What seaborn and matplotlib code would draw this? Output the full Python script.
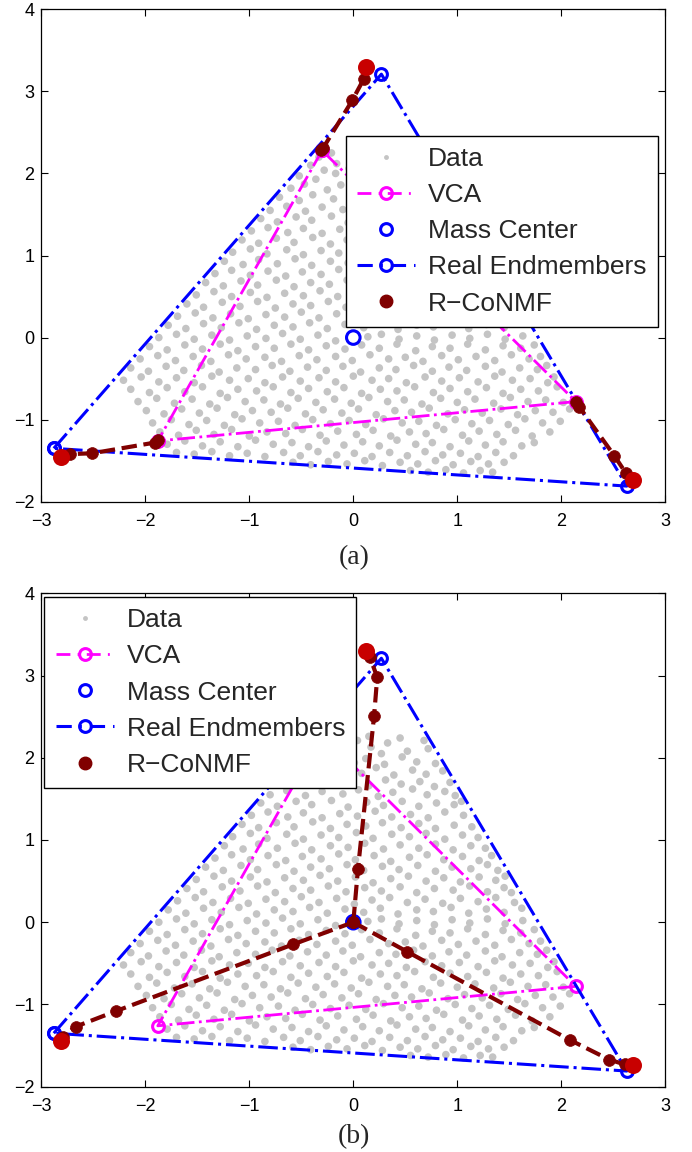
import matplotlib
matplotlib.use("Agg")
import matplotlib.pyplot as plt
from matplotlib.lines import Line2D
import seaborn as sns

# gray data cloud (same samples in both panels)
data_xy = [
    (-0.33, 2.20), (-0.21, 2.25), (0.04, 2.21), (0.15, 2.26), (0.33, 2.18), (0.45, 2.24), (0.68, 2.21),
    (-0.41, 2.10), (-0.16, 2.12), (-0.04, 2.06), (0.17, 2.13), (0.27, 2.05), (0.52, 2.08), (0.72, 2.11), (-0.28, 2.04),
    (-0.52, 1.97), (-0.36, 1.93), (-0.17, 2.00), (0.01, 1.94), (0.12, 1.99), (0.30, 1.92), (0.47, 2.01), (0.61, 1.95), (0.79, 1.93),
    (-0.60, 1.82), (-0.47, 1.87), (-0.25, 1.80), (-0.12, 1.86), (0.08, 1.81), (0.22, 1.88), (0.39, 1.79), (0.57, 1.85), (0.70, 1.80), (0.86, 1.84),
    (-0.71, 1.71), (-0.52, 1.67), (-0.39, 1.74), (-0.19, 1.69), (-0.03, 1.72), (0.15, 1.66), (0.31, 1.73), (0.46, 1.68), (0.64, 1.71), (0.78, 1.65), (0.93, 1.70),
    (-0.80, 1.55), (-0.64, 1.60), (-0.46, 1.54), (-0.30, 1.59), (-0.10, 1.56), (0.05, 1.61), (0.24, 1.53), (0.38, 1.58), (0.57, 1.62), (0.71, 1.55), (0.88, 1.59), (0.98, 1.54),
    (-0.89, 1.45), (-0.73, 1.41), (-0.55, 1.47), (-0.40, 1.43), (-0.21, 1.48), (-0.05, 1.40), (0.13, 1.46), (0.29, 1.42), (0.47, 1.47), (0.63, 1.41), (0.80, 1.45), (0.97, 1.43), (1.04, 1.47),
    (-0.98, 1.30), (-0.82, 1.34), (-0.63, 1.28), (-0.48, 1.33), (-0.30, 1.27), (-0.13, 1.32), (0.04, 1.29), (0.21, 1.35), (0.37, 1.28), (0.55, 1.31), (0.72, 1.27), (0.88, 1.34), (1.06, 1.30),
    (-1.07, 1.19), (-0.91, 1.15), (-0.74, 1.21), (-0.57, 1.16), (-0.39, 1.22), (-0.22, 1.14), (-0.06, 1.19), (0.12, 1.17), (0.28, 1.21), (0.46, 1.15), (0.63, 1.20), (0.79, 1.14), (0.97, 1.18), (1.14, 1.16),
    (-1.16, 1.04), (-0.99, 1.08), (-0.83, 1.02), (-0.64, 1.07), (-0.48, 1.01), (-0.31, 1.06), (-0.14, 1.03), (0.03, 1.09), (0.19, 1.02), (0.37, 1.07), (0.54, 1.04), (0.70, 1.08), (0.88, 1.01), (1.05, 1.06), (1.20, 1.03),
    (-1.24, 0.93), (-1.06, 0.89), (-0.91, 0.95), (-0.73, 0.90), (-0.56, 0.96), (-0.40, 0.88), (-0.22, 0.93), (-0.05, 0.91), (0.11, 0.96), (0.29, 0.89), (0.45, 0.94), (0.63, 0.90), (0.79, 0.95), (0.96, 0.88), (1.13, 0.93), (1.27, 0.90),
    (-1.33, 0.78), (-1.17, 0.82), (-0.99, 0.76), (-0.82, 0.81), (-0.65, 0.75), (-0.49, 0.80), (-0.31, 0.77), (-0.14, 0.83), (0.02, 0.76), (0.20, 0.81), (0.36, 0.74), (0.54, 0.79), (0.71, 0.82), (0.87, 0.76), (1.05, 0.80), (1.21, 0.75), (1.33, 0.81),
    (-1.42, 0.67), (-1.25, 0.63), (-1.08, 0.69), (-0.92, 0.64), (-0.74, 0.70), (-0.57, 0.62), (-0.41, 0.67), (-0.23, 0.65), (-0.06, 0.70), (0.10, 0.63), (0.28, 0.68), (0.44, 0.64), (0.62, 0.69), (0.79, 0.62), (0.95, 0.67), (1.13, 0.65), (1.29, 0.70), (1.39, 0.63),
    (-1.51, 0.52), (-1.34, 0.56), (-1.17, 0.50), (-0.99, 0.55), (-0.83, 0.49), (-0.66, 0.54), (-0.48, 0.51), (-0.32, 0.57), (-0.15, 0.50), (0.02, 0.55), (0.19, 0.48), (0.36, 0.53), (0.53, 0.56), (0.70, 0.50), (0.87, 0.54), (1.03, 0.49), (1.21, 0.55), (1.37, 0.51), (1.46, 0.56),
    (-1.60, 0.41), (-1.44, 0.37), (-1.26, 0.43), (-1.09, 0.38), (-0.92, 0.44), (-0.75, 0.36), (-0.58, 0.41), (-0.41, 0.39), (-0.24, 0.44), (-0.07, 0.37), (0.11, 0.42), (0.27, 0.38), (0.45, 0.43), (0.61, 0.36), (0.78, 0.41), (0.96, 0.39), (1.12, 0.44), (1.29, 0.37), (1.45, 0.42), (1.52, 0.36),
    (-1.69, 0.26), (-1.52, 0.30), (-1.35, 0.24), (-1.18, 0.29), (-1.01, 0.23), (-0.84, 0.28), (-0.66, 0.25), (-0.50, 0.31), (-0.33, 0.24), (-0.16, 0.29), (0.01, 0.22), (0.18, 0.27), (0.35, 0.30), (0.52, 0.24), (0.69, 0.28), (0.86, 0.23), (1.03, 0.29), (1.20, 0.25), (1.37, 0.30), (1.55, 0.24),
    (-1.78, 0.15), (-1.61, 0.11), (-1.44, 0.17), (-1.27, 0.12), (-1.10, 0.18), (-0.93, 0.10), (-0.76, 0.15), (-0.58, 0.13), (-0.42, 0.18), (-0.25, 0.11), (-0.08, 0.16), (0.10, 0.12), (0.26, 0.17), (0.43, 0.10), (0.61, 0.15), (0.77, 0.13), (0.94, 0.18), (1.11, 0.11), (1.28, 0.16), (1.45, 0.12), (1.62, 0.17),
    (-1.87, 0.00), (-1.70, 0.04), (-1.53, -0.02), (-1.36, 0.03), (-1.19, -0.03), (-1.02, 0.02), (-0.84, -0.01), (-0.68, 0.05), (-0.51, -0.02), (-0.34, 0.03), (-0.17, -0.04), (0.14, 0.01), (0.27, 0.04), (0.44, -0.02), (0.61, 0.02), (0.78, -0.03), (0.95, 0.03), (1.12, -0.01), (1.29, 0.04), (1.46, -0.02), (1.63, 0.02),
    (-1.96, -0.11), (-1.79, -0.15), (-1.62, -0.09), (-1.45, -0.14), (-1.28, -0.08), (-1.11, -0.16), (-0.94, -0.11), (-0.76, -0.13), (-0.60, -0.08), (-0.43, -0.15), (-0.26, -0.10), (-0.08, -0.14), (0.08, -0.09), (0.25, -0.13), (0.42, -0.08), (0.60, -0.16), (0.76, -0.11), (0.93, -0.13), (1.10, -0.08), (1.27, -0.15), (1.44, -0.10), (1.61, -0.13), (1.74, -0.09),
    (-2.05, -0.26), (-1.88, -0.22), (-1.71, -0.28), (-1.54, -0.23), (-1.37, -0.29), (-1.20, -0.21), (-1.03, -0.26), (-0.85, -0.24), (-0.69, -0.29), (-0.52, -0.22), (-0.35, -0.27), (-0.17, -0.23), (-0.01, -0.28), (0.16, -0.21), (0.34, -0.26), (0.50, -0.24), (0.67, -0.29), (0.85, -0.22), (1.01, -0.27), (1.18, -0.23), (1.36, -0.28), (1.52, -0.21), (1.69, -0.26), (1.80, -0.23),
    (-2.14, -0.37), (-1.97, -0.41), (-1.80, -0.35), (-1.63, -0.40), (-1.46, -0.34), (-1.29, -0.42), (-1.12, -0.37), (-0.94, -0.39), (-0.78, -0.34), (-0.61, -0.41), (-0.44, -0.36), (-0.26, -0.40), (-0.10, -0.35), (0.07, -0.42), (0.25, -0.37), (0.41, -0.39), (0.58, -0.34), (0.76, -0.41), (0.92, -0.36), (1.09, -0.40), (1.27, -0.35), (1.43, -0.42), (1.60, -0.37), (1.77, -0.39), (1.86, -0.34),
    (-2.21, -0.52), (-2.04, -0.48), (-1.87, -0.54), (-1.70, -0.49), (-1.53, -0.55), (-1.36, -0.47), (-1.19, -0.52), (-1.01, -0.50), (-0.85, -0.55), (-0.68, -0.48), (-0.51, -0.53), (-0.33, -0.49), (-0.17, -0.54), (0.00, -0.47), (0.18, -0.52), (0.34, -0.50), (0.51, -0.55), (0.69, -0.48), (0.85, -0.53), (1.02, -0.49), (1.20, -0.54), (1.36, -0.47), (1.53, -0.52), (1.70, -0.50), (1.87, -0.55), (1.93, -0.48),
    (-2.14, -0.63), (-1.96, -0.67), (-1.79, -0.61), (-1.62, -0.66), (-1.45, -0.60), (-1.28, -0.68), (-1.11, -0.63), (-0.93, -0.65), (-0.77, -0.60), (-0.60, -0.67), (-0.43, -0.62), (-0.25, -0.66), (-0.09, -0.61), (0.08, -0.68), (0.26, -0.63), (0.42, -0.65), (0.59, -0.60), (0.77, -0.67), (0.93, -0.62), (1.10, -0.66), (1.28, -0.61), (1.44, -0.68), (1.61, -0.63), (1.78, -0.65), (1.96, -0.60),
    (-2.07, -0.78), (-1.89, -0.74), (-1.72, -0.80), (-1.55, -0.75), (-1.38, -0.81), (-1.21, -0.73), (-1.04, -0.78), (-0.86, -0.76), (-0.70, -0.81), (-0.53, -0.74), (-0.36, -0.79), (-0.18, -0.75), (-0.02, -0.80), (0.15, -0.73), (0.33, -0.78), (0.49, -0.76), (0.66, -0.81), (0.84, -0.74), (1.00, -0.79), (1.17, -0.75), (1.35, -0.80), (1.51, -0.73), (1.68, -0.78), (1.85, -0.76), (2.02, -0.79),
    (-1.99, -0.89), (-1.82, -0.93), (-1.65, -0.87), (-1.48, -0.92), (-1.31, -0.86), (-1.14, -0.94), (-0.97, -0.89), (-0.79, -0.91), (-0.63, -0.86), (-0.46, -0.93), (-0.29, -0.88), (-0.11, -0.92), (0.05, -0.87), (0.22, -0.94), (0.40, -0.89), (0.56, -0.91), (0.73, -0.86), (0.91, -0.93), (1.07, -0.88), (1.24, -0.92), (1.42, -0.87), (1.58, -0.94), (1.75, -0.89), (1.92, -0.91), (2.08, -0.87),
    (-1.93, -1.04), (-1.75, -1.00), (-1.58, -1.06), (-1.41, -1.01), (-1.24, -1.07), (-1.07, -0.99), (-0.90, -1.04), (-0.72, -1.02), (-0.56, -1.07), (-0.39, -1.00), (-0.22, -1.05), (-0.04, -1.01), (0.12, -1.06), (0.29, -0.99), (0.47, -1.04), (0.63, -1.02), (0.80, -1.07), (0.98, -1.00), (1.14, -1.05), (1.31, -1.01), (1.49, -1.06), (1.65, -0.99), (1.82, -1.04), (1.99, -1.02),
    (-1.86, -1.15), (-1.68, -1.19), (-1.51, -1.13), (-1.34, -1.18), (-1.17, -1.12), (-1.00, -1.20), (-0.83, -1.15), (-0.65, -1.17), (-0.49, -1.12), (-0.32, -1.19), (-0.15, -1.14), (0.03, -1.18), (0.19, -1.13), (0.36, -1.20), (0.54, -1.15), (0.70, -1.17), (0.87, -1.12), (1.05, -1.19), (1.21, -1.14), (1.38, -1.18), (1.56, -1.13), (1.72, -1.20), (1.89, -1.15),
    (-1.79, -1.30), (-1.62, -1.26), (-1.45, -1.32), (-1.28, -1.27), (-1.11, -1.33), (-0.94, -1.25), (-0.77, -1.30), (-0.59, -1.28), (-0.43, -1.33), (-0.26, -1.26), (-0.09, -1.31), (0.09, -1.27), (0.25, -1.32), (0.42, -1.25), (0.60, -1.30), (0.76, -1.28), (0.93, -1.33), (1.11, -1.26), (1.27, -1.31), (1.44, -1.27), (1.62, -1.32), (1.74, -1.28),
    (-1.70, -1.40), (-1.53, -1.42), (-1.36, -1.39), (-1.19, -1.44), (-1.02, -1.41), (-0.85, -1.45), (-0.67, -1.40), (-0.51, -1.44), (-0.34, -1.39), (-0.16, -1.43), (0.01, -1.41), (0.18, -1.45), (0.35, -1.40), (0.52, -1.44), (0.69, -1.39), (0.86, -1.43), (1.03, -1.41), (1.20, -1.45), (1.37, -1.40), (1.54, -1.44),
    (-0.58, -1.52), (-0.41, -1.55), (-0.24, -1.51), (-0.06, -1.54), (0.11, -1.50), (0.28, -1.56), (0.45, -1.52), (0.62, -1.54), (0.79, -1.50), (0.96, -1.55), (1.13, -1.51), (1.30, -1.54), (1.45, -1.52),
    (0.55, -1.62), (0.72, -1.64), (0.89, -1.61), (1.06, -1.65), (1.22, -1.62), (1.34, -1.64),
]
data_x = [p[0] for p in data_xy]
data_y = [p[1] for p in data_xy]

# real endmembers (closed triangle) and mass center
real_x = [-2.88, 0.27, 2.63, -2.88]
real_y = [-1.35, 3.21, -1.81, -1.35]
mass_x = [0.0]
mass_y = [0.0]

# VCA estimate (closed triangle)
vca_x = [-0.30, -1.88, 2.14, -0.30]
vca_y = [2.28, -1.26, -0.78, 2.28]

# R-CoNMF iterations, panel (a): started from VCA
rc_a_paths = [
    ([-0.31, -0.29, -0.01, 0.10, 0.12], [2.28, 2.31, 2.89, 3.15, 3.30]),
    ([-1.88, -1.91, -2.51, -2.72, -2.81], [-1.25, -1.28, -1.41, -1.42, -1.45]),
    ([2.14, 2.17, 2.51, 2.62, 2.69], [-0.78, -0.84, -1.44, -1.65, -1.74]),
]
# R-CoNMF iterations, panel (b): started from mass center
rc_b_paths = [
    ([0.0, 0.045, 0.20, 0.23, 0.16, 0.12], [0.0, 0.65, 2.51, 2.98, 3.22, 3.30]),
    ([0.0, -0.58, -2.28, -2.67, -2.79, -2.81], [0.0, -0.27, -1.08, -1.27, -1.39, -1.45]),
    ([0.0, 0.52, 2.08, 2.46, 2.61, 2.69], [0.0, -0.36, -1.43, -1.67, -1.73, -1.74]),
]

legend_labels = ["Data", "VCA", "Mass Center", "Real Endmembers", "R\u2212CoNMF"]
panel_labels = ["(a)", "(b)"]

GRAY = "#c4c4c4"
DARKRED = "#800000"
RED = "#c80000"
DASHDOT = (5.0, 2.6, 0.7, 2.6)
DASH = (3.4, 2.2)

sns.set_style("ticks")
plt.rcParams["font.family"] = ["Liberation Sans", "DejaVu Sans"]

fig = plt.figure(figsize=(6.92, 11.52), dpi=100)
ax_a = fig.add_axes([0.0597, 0.5645, 0.9017, 0.4274])
ax_b = fig.add_axes([0.0597, 0.0567, 0.9017, 0.4283])

open_kw = dict(marker="o", markersize=8.5, markerfacecolor="none", markeredgewidth=2.2)


def draw_panel(ax, rc_paths):
    sns.scatterplot(x=data_x, y=data_y, s=30, color=GRAY, edgecolor="none",
                    linewidth=0, ax=ax, legend=False, zorder=1)
    sns.lineplot(x=vca_x, y=vca_y, sort=False, estimator=None, ax=ax,
                 color="magenta", linestyle="-.", dashes=DASHDOT, linewidth=2.0,
                 markeredgecolor="magenta", legend=False, zorder=2, **open_kw)
    sns.lineplot(x=real_x, y=real_y, sort=False, estimator=None, ax=ax,
                 color="blue", linestyle="-.", dashes=DASHDOT, linewidth=2.2,
                 markeredgecolor="blue", legend=False, zorder=2, **open_kw)
    sns.scatterplot(x=mass_x, y=mass_y, s=95, facecolor="none", edgecolor="blue",
                    linewidth=2.2, ax=ax, legend=False, zorder=3)
    for px, py in rc_paths:
        sns.lineplot(x=px, y=py, sort=False, estimator=None, ax=ax,
                     color=DARKRED, linestyle="--", dashes=DASH, linewidth=3.0,
                     marker="o", markersize=8.5, markerfacecolor=DARKRED,
                     markeredgecolor=DARKRED, markeredgewidth=0.5,
                     legend=False, zorder=4)
        sns.scatterplot(x=px[-1:], y=py[-1:], s=150, color=RED, edgecolor=RED,
                        linewidth=0, ax=ax, legend=False, zorder=5)

    ax.set_xlim(-3, 3)
    ax.set_ylim(-2, 4)
    ax.set_xticks(range(-3, 4))
    ax.set_yticks(range(-2, 5))
    ax.tick_params(direction="in", top=True, right=True, length=5, width=0.8,
                   labelsize=13, colors="black")
    ax.tick_params(axis="x", pad=8)
    ax.tick_params(axis="y", pad=5)
    for sp in ax.spines.values():
        sp.set_visible(True)
        sp.set_color("black")
        sp.set_linewidth(0.9)


draw_panel(ax_a, rc_a_paths)
draw_panel(ax_b, rc_b_paths)

handles = [
    Line2D([], [], linestyle="none", marker="o", markersize=3.5, color=GRAY,
           markeredgecolor="none"),
    Line2D([], [], color="magenta", linestyle="-.", dashes=DASHDOT, linewidth=2.0,
           markeredgecolor="magenta", **open_kw),
    Line2D([], [], linestyle="none", markeredgecolor="blue", **open_kw),
    Line2D([], [], color="blue", linestyle="-.", dashes=DASHDOT, linewidth=2.2,
           markeredgecolor="blue", **open_kw),
    Line2D([], [], linestyle="none", marker="o", markersize=9, color=DARKRED),
]

leg_kw = dict(loc="upper left", fontsize=19, frameon=True, fancybox=False,
              framealpha=1, edgecolor="black", borderaxespad=0,
              handlelength=2.2, handletextpad=0.5, labelspacing=0.46,
              borderpad=0.42, numpoints=1)
leg_a = ax_a.legend(handles, legend_labels, bbox_to_anchor=(0.488, 0.743), **leg_kw)
leg_b = ax_b.legend(handles, legend_labels, bbox_to_anchor=(0.005, 0.992), **leg_kw)
for leg in (leg_a, leg_b):
    leg.get_frame().set_linewidth(1.0)
    leg.set_zorder(10)

fig.text(354 / 692, 1 - 558 / 1152, panel_labels[0], ha="center", va="center",
         family="Liberation Serif", fontsize=20)
fig.text(354 / 692, 1 - 1137 / 1152, panel_labels[1], ha="center", va="center",
         family="Liberation Serif", fontsize=20)

fig.savefig("out.png", dpi=100)
